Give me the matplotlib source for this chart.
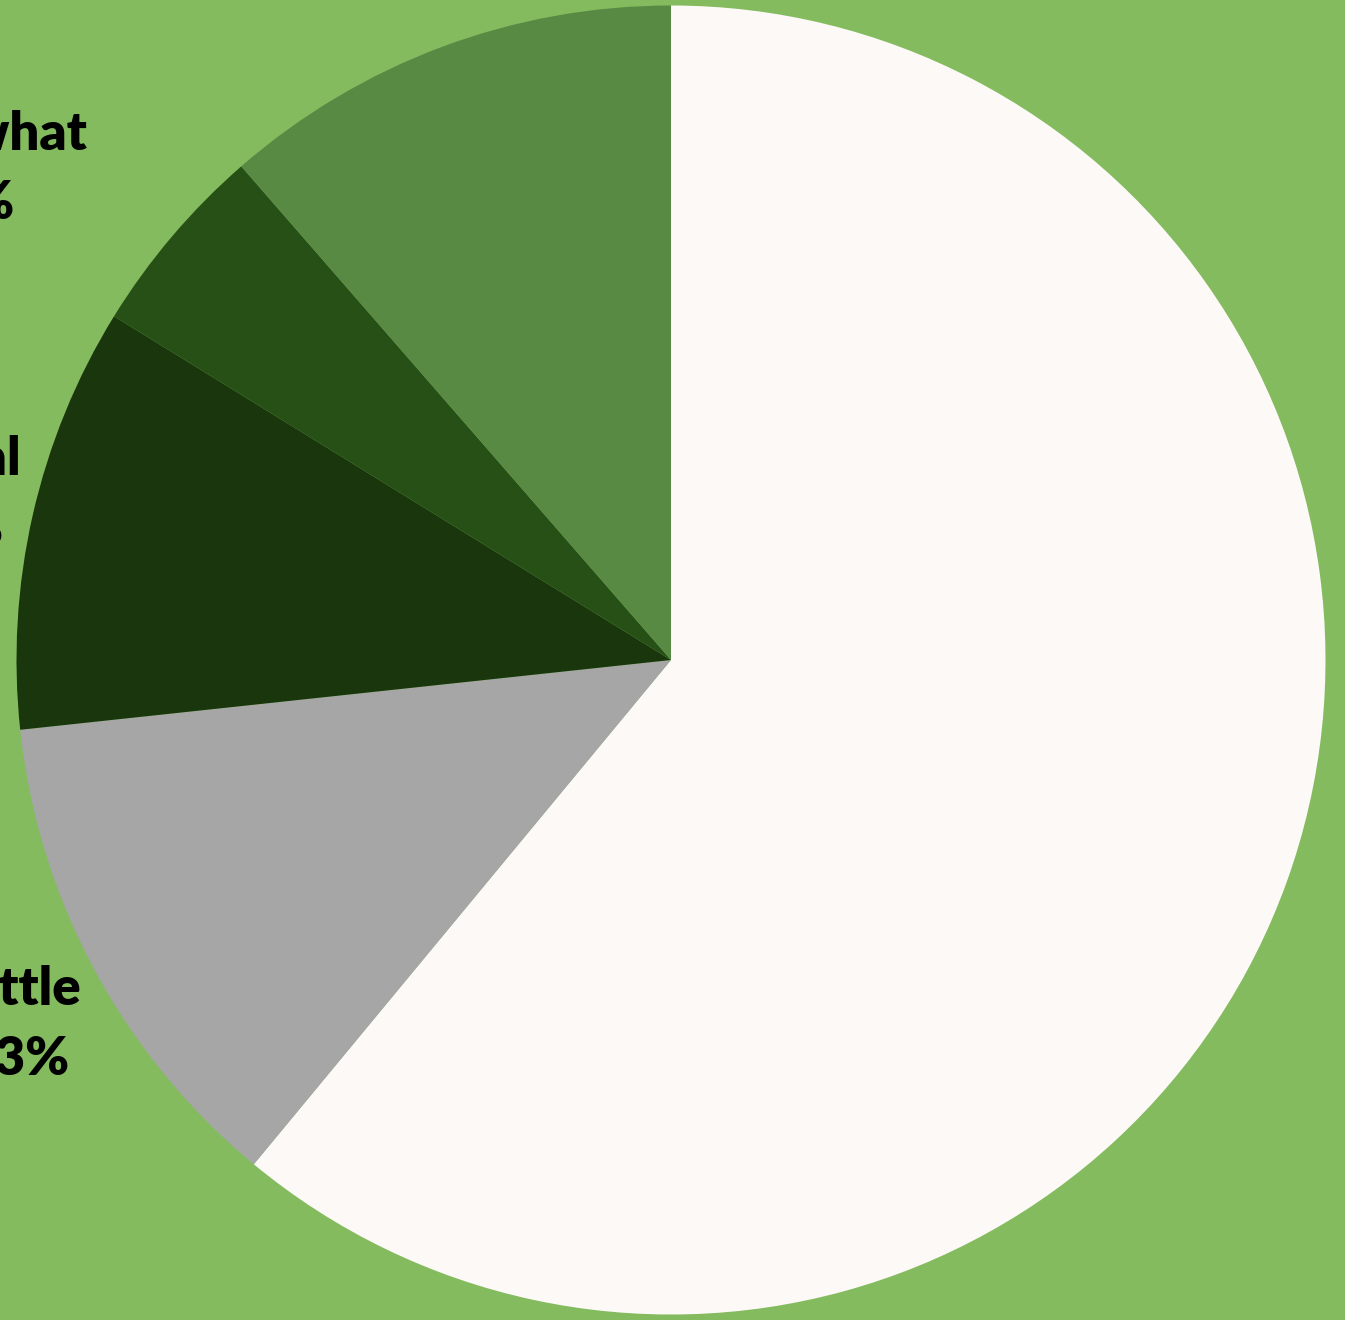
import matplotlib
matplotlib.use("Agg")
import matplotlib.pyplot as plt

# Data (clockwise from 12 o'clock)
categories = ["A lot", "A little", "Neutral", "Not much", "Somewhat"]
shares = [61.0, 12.3, 10.5, 4.8, 11.4]
pct_labels = ["61%", "13%", "10%", "5%", "11%"]
colors = ["#FDF9F7", "#A6A6A6", "#1A360D", "#275017", "#588A44"]

BG = "#84BB5F"
W, H = 1345, 1320

fig = plt.figure(figsize=(W / 100, H / 100), dpi=100, facecolor=BG)
ax = fig.add_axes([0, 0, 1, 1])
ax.set_facecolor(BG)

cx, cy, r = 671, H - 660, 654.5
ax.pie(shares, colors=colors, startangle=90, counterclock=False,
       center=(cx, cy), radius=r, frame=True,
       wedgeprops=dict(linewidth=0, antialiased=True))
ax.set_xlim(0, W)
ax.set_ylim(0, H)
ax.set_aspect("equal")
ax.axis("off")

font = dict(family=["Lato", "DejaVu Sans"], fontweight="heavy", fontsize=38,
            color="black", ha="right", va="baseline")

# Labels positioned to the left of the pie (partially clipped by figure edge,
# as in the reference)
label_pos = {
    "Somewhat": ((87, 150), (15, 219)),
    "Neutral": ((21, 475), (3, 545)),
    "A little": ((81, 1005), (69, 1075)),
}
for cat, pct in zip(categories, pct_labels):
    if cat in label_pos:
        (x1, y1), (x2, y2) = label_pos[cat]
        ax.text(x1, H - y1, cat, **font)
        ax.text(x2, H - y2, pct, **font)

fig.savefig("out.png", dpi=100, facecolor=BG)
